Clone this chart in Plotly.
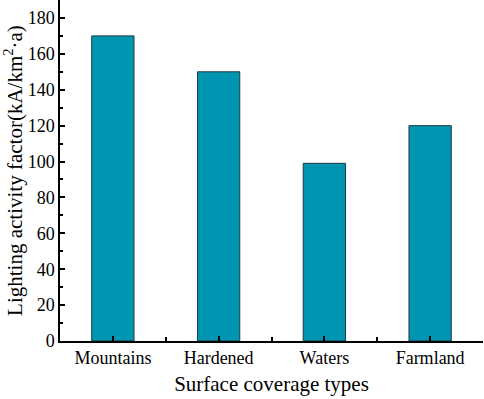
import plotly.graph_objects as go

categories = ["Mountains", "Hardened", "Waters", "Farmland"]
values = [170, 150, 99, 120]
y_ticks = [0, 20, 40, 60, 80, 100, 120, 140, 160, 180]

positions = list(range(len(categories)))

fig = go.Figure()
fig.add_trace(go.Bar(
    x=positions, y=values, width=0.4,
    marker=dict(color="#0095B0", line=dict(color="#1c3a44", width=1)),
))

font_family = "Liberation Serif"
fig.update_layout(
    width=484, height=399,
    margin=dict(l=60, r=1, t=0, b=58),
    plot_bgcolor="white", paper_bgcolor="white",
    showlegend=False,
    font=dict(family=font_family, color="black"),
    xaxis=dict(
        range=[-0.5, 3.5],
        tickvals=positions, ticktext=categories,
        ticks="inside", ticklen=5, tickwidth=1.5, tickcolor="black",
        minor=dict(ticks="inside", tick0=0.5, dtick=1, ticklen=4, tickwidth=1.5, tickcolor="black"),
        showline=True, linecolor="black", linewidth=1.5,
        showgrid=False, zeroline=False,
        tickfont=dict(size=18, family=font_family),
        title=dict(text="Surface coverage types", font=dict(size=21, family=font_family), standoff=9),
    ),
    yaxis=dict(
        range=[0, 190],
        tickvals=y_ticks,
        ticks="inside", ticklen=5, tickwidth=1.5, tickcolor="black",
        minor=dict(ticks="inside", dtick=10, ticklen=3, tickwidth=1.5, tickcolor="black"),
        showline=True, linecolor="black", linewidth=1.5,
        showgrid=False, zeroline=False,
        tickfont=dict(size=18, family=font_family),
        title=dict(text="Lighting activity factor(kA/km<sup>2</sup>·a)", font=dict(size=21, family=font_family), standoff=4),
    ),
)

fig.write_html(
    "out.html",
    config={"displayModeBar": False},
    post_script="document.body.style.margin='0';document.body.style.overflow='hidden';",
)
